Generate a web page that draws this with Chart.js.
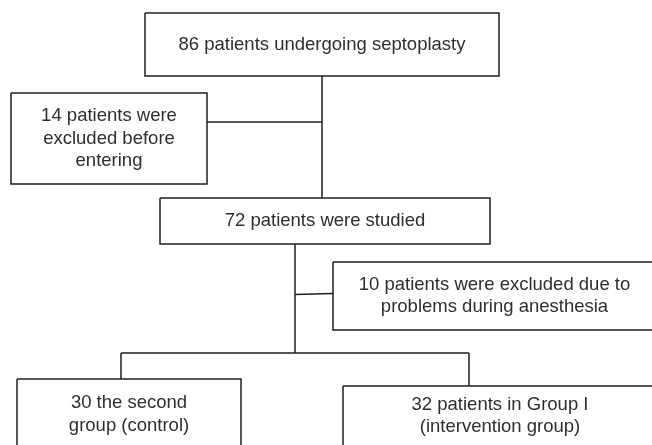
<!DOCTYPE html>
<html>
<head>
<meta charset="utf-8">
<script src="https://cdn.jsdelivr.net/npm/chart.js@4/dist/chart.umd.min.js"></script>
<style>
  html, body { margin: 0; padding: 0; background: #fff; }
  #flow { display: block; }
</style>
</head>
<body>
<canvas id="flow" width="652" height="445"></canvas>
<script>
'use strict';

// flow boxes (text lines + extent in layout units)
var boxText = [
    ["86 patients undergoing septoplasty"],
    ["14 patients were", "excluded before", "entering"],
    ["72 patients were studied"],
    ["10 patients were excluded due to", "problems during anesthesia"],
    ["30 the second", "group (control)"],
    ["32 patients in Group I", "(intervention group)"]
];
var boxLeft   = [145,  11, 160, 333,  17, 343];
var boxRight  = [499, 207, 490, 656, 241, 657];
var boxTop    = [ 13,  93, 198, 262, 379, 386];
var boxBottom = [ 76, 184, 244, 330, 450, 446];

// connectors between boxes
var linkX1 = [322, 207, 295, 295, 121, 121, 469];
var linkY1 = [ 76, 122, 244, 294.5, 353, 353, 353];
var linkX2 = [322, 322, 295, 333, 469, 121, 469];
var linkY2 = [198, 122, 353, 293.5, 353, 379, 386];

var lineColor = '#1f1f1f';
var textColor = '#2e2e2e';

var datasets = [];
boxText.forEach(function (t, i) {
    datasets.push({
        data: [
            {x: boxLeft[i], y: boxTop[i]},
            {x: boxRight[i], y: boxTop[i]},
            {x: boxRight[i], y: boxBottom[i]},
            {x: boxLeft[i], y: boxBottom[i]},
            {x: boxLeft[i], y: boxTop[i]}
        ],
        showLine: true,
        borderColor: lineColor,
        borderWidth: 1.5,
        pointRadius: 0,
        tension: 0,
        fill: false
    });
});
linkX1.forEach(function (x, i) {
    datasets.push({
        data: [{x: x, y: linkY1[i]}, {x: linkX2[i], y: linkY2[i]}],
        showLine: true,
        borderColor: lineColor,
        borderWidth: 1.5,
        pointRadius: 0,
        fill: false
    });
});

var boxLabels = {
    id: 'boxLabels',
    afterDatasetsDraw: function (chart) {
        var c = chart.ctx;
        var xs = chart.scales.x, ys = chart.scales.y;
        c.save();
        c.font = '18.5px "Liberation Sans", Arial, sans-serif';
        c.fillStyle = textColor;
        c.textAlign = 'center';
        c.textBaseline = 'middle';
        boxText.forEach(function (lines, i) {
            var cx = xs.getPixelForValue((boxLeft[i] + boxRight[i]) / 2);
            var cy = ys.getPixelForValue((boxTop[i] + boxBottom[i]) / 2);
            var lh = 22.5;
            var y0 = cy - (lines.length - 1) * lh / 2;
            lines.forEach(function (s, k) {
                c.fillText(s, cx, y0 + k * lh);
            });
        });
        c.restore();
    }
};

var ctx = document.getElementById("flow").getContext('2d');
var flow = new Chart(ctx, {
    type: 'scatter',
    data: { datasets: datasets },
    options: {
        responsive: false,
        animation: false,
        events: [],
        layout: { padding: 0 },
        plugins: { legend: { display: false }, tooltip: { enabled: false } },
        scales: {
            x: { type: 'linear', min: 0, max: 652, display: false },
            y: { type: 'linear', min: 0, max: 445, reverse: true, display: false }
        }
    },
    plugins: [boxLabels]
});
</script>
</body>
</html>
